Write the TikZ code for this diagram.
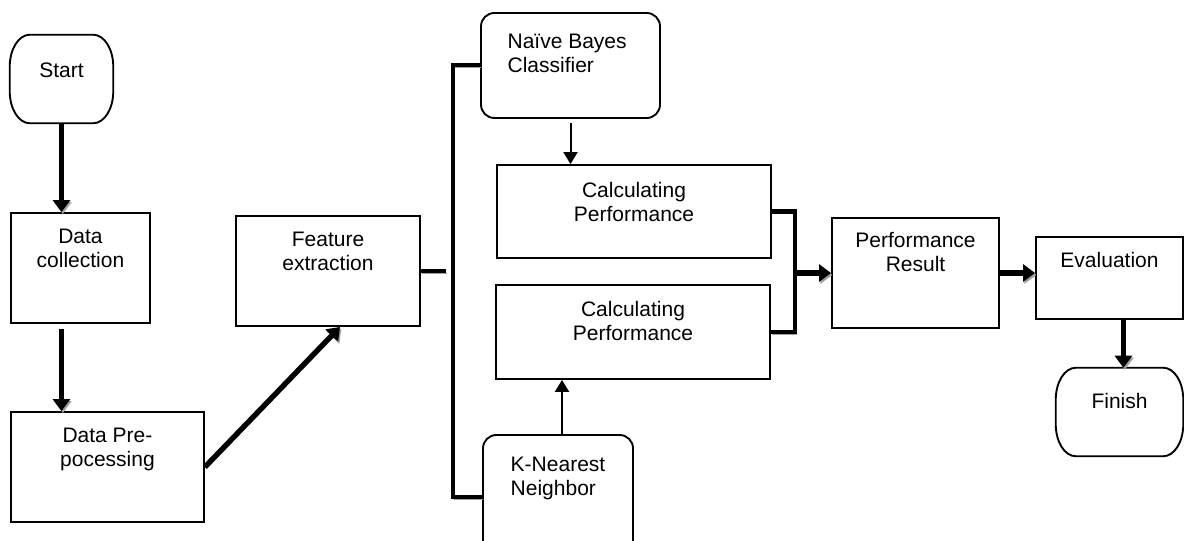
\documentclass[tikz,border=0pt]{standalone}
\usepackage{fontspec}
\setmainfont{Liberation Sans}
\usepackage{tikz}
\usetikzlibrary{positioning}
\usetikzlibrary{calc,arrows.meta}

% outline of a start/end box: flat top and bottom, round sides
\newcommand{\termline}[1]{%
  \draw[line width=1.4pt] ([xshift=15pt]#1.north west) -- ([xshift=-15pt]#1.north east)
    arc[start angle=90,end angle=0,x radius=15pt,y radius=24pt]
    -- ([yshift=24pt]#1.south east)
    arc[start angle=0,end angle=-90,x radius=15pt,y radius=24pt]
    -- ([xshift=15pt]#1.south west)
    arc[start angle=270,end angle=180,x radius=15pt,y radius=24pt]
    -- ([yshift=-24pt]#1.north west)
    arc[start angle=180,end angle=90,x radius=15pt,y radius=24pt] -- cycle;}

\begin{document}
\begin{tikzpicture}[x=0.75pt, y=0.75pt,
    box/.style={draw, line width=1.4pt, inner sep=0pt},
    rbox/.style={box, rounded corners=10pt},
    term/.style={inner sep=0pt, minimum width=#1, minimum height=66pt},
    txt/.style={align=center, inner sep=0pt, font=\fontsize{15.75}{18}\selectfont},
    dropline/.style={preaction={draw=gray!75, transform canvas={shift={(1pt,-1.5pt)}}}},
    flow/.style={line width=4pt, -{Triangle[length=9pt,width=12.75pt]}, dropline},
    link/.style={line width=1.5pt, -{Triangle[length=9pt,width=10.5pt]}},
    bracket/.style={line width=3pt, dropline}]

 \useasboundingbox (0,0) rectangle (1184,-541);

    % left column
    \node[term=77.25pt] (start) at (61.5,-79) {};
    \termline{start}
    \node[txt, below=21pt of start.north] (start-t) {Start};
    \node[box, minimum width=104.25pt, minimum height=82.5pt] (dc) at (80.5,-268) {};
    \node[txt, below=12.75pt of dc.north] (dc-t) {Data\\collection};
    \node[box, minimum width=144.75pt, minimum height=82.5pt] (dpp) at (107.5,-467) {};
    \node[txt, below=12.75pt of dpp.north] (dpp-t) {Data Pre-\\pocessing};
    \node[box, minimum width=138pt, minimum height=82.5pt] (fe) at (328,-271) {};
    \node[txt, below=12.75pt of fe.north] (fe-t) {Feature\\extraction};

    % the two classifiers
    \node[rbox, minimum width=134.25pt, minimum height=78.75pt] (nb) at (570.5,-65.5) {};
    \node[txt, align=left, below=16.5pt of nb.north, xshift=-2.5pt] (nb-t) {Naïve Bayes\\Classifier};
    \node[box, minimum width=205.5pt, minimum height=69.75pt] (cp1) at (634,-211.5) {};
    \node[txt, below=13.5pt of cp1.north] (cp1-t) {Calculating\\Performance};
    \node[box, minimum width=205.5pt, minimum height=70.5pt] (cp2) at (633,-332) {};
    \node[txt, below=12.75pt of cp2.north] (cp2-t) {Calculating\\Performance};
    \node[rbox, minimum width=112.5pt, minimum height=93pt] (knn) at (558,-497) {};
    \node[txt, align=left, below=17.25pt of knn.north] (knn-t) {K-Nearest\\Neighbor};

    % right part
    \node[box, minimum width=125.25pt, minimum height=82.5pt] (pr) at (915.5,-273) {};
    \node[txt, below=11.25pt of pr.north] (pr-t) {Performance\\Result};
    \node[box, minimum width=110.25pt, minimum height=61.5pt] (eval) at (1109.5,-278) {};
    \node[txt, below=12pt of eval.north] (eval-t) {Evaluation};
    \node[term=95.25pt] (finish) at (1119.5,-412) {};
    \termline{finish}
    \node[txt, below=18.75pt of finish.north] (finish-t) {Finish};

    \coordinate (festub) at (446,-271);
    \coordinate (spine) at (453,-65.5);
    \coordinate (join) at (795,-273);

    % connectors
    \draw[flow] (start.south) -- (start.south |- dc.north);
    \draw[flow, shorten <=4pt] (dc.south -| start.south) -- (dpp.north -| start.south);
    \draw[flow] (dpp.east) -- ([xshift=9pt]fe.south);
    \draw[bracket] (fe.east) -- (festub);
    \draw[bracket] (nb.west) -- (spine) |- (knn.west);
    \draw[link, shorten <=3pt] (nb.south) -- (nb.south |- cp1.north);
    \draw[link] ([xshift=3pt]knn.north) -- ([xshift=3pt]knn.north |- cp2.south);
    \draw[bracket, line width=3.5pt] (cp1.east) -| (join) |- (cp2.east);
    \draw[flow] (join) -- (pr.west);
    \draw[flow] (pr.east) -- (pr.east -| eval.west);
    \draw[flow] ([xshift=3pt]finish.north |- eval.south) -- ([xshift=3pt]finish.north);
\end{tikzpicture}
\end{document}
